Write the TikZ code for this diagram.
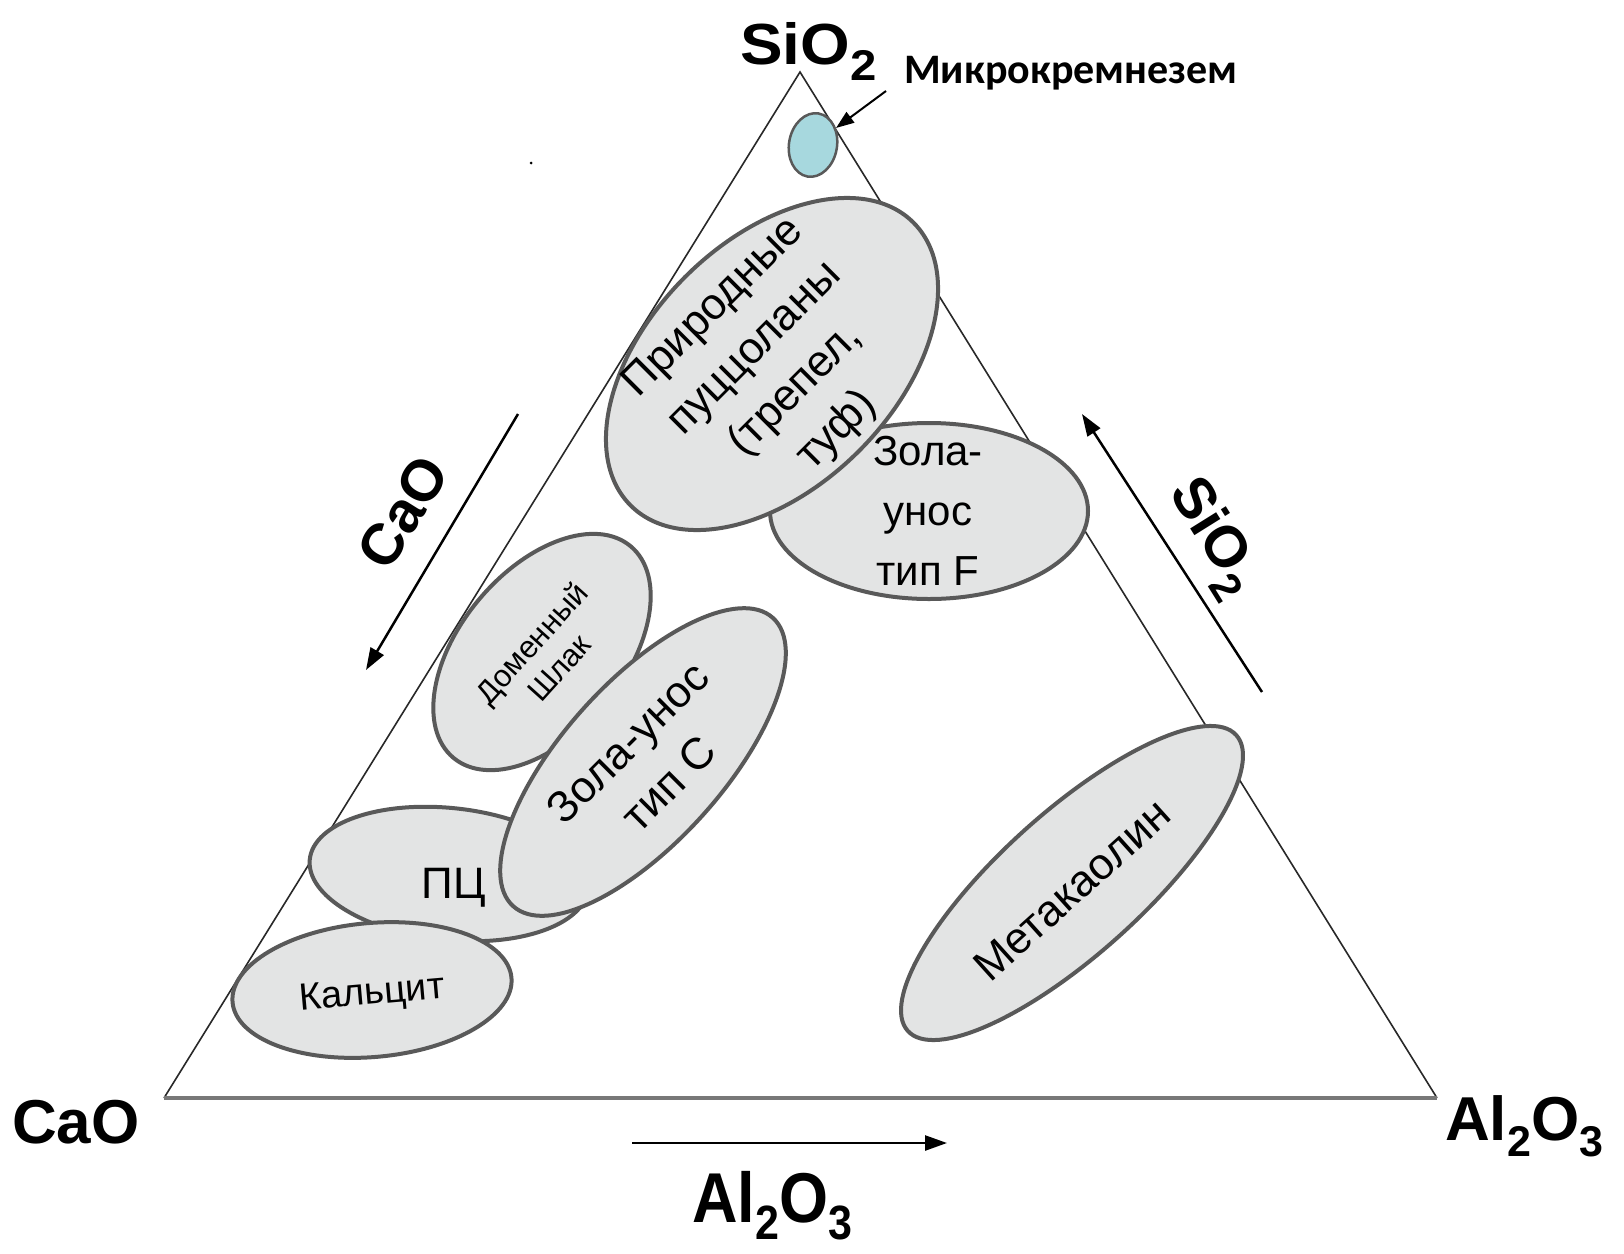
\documentclass[tikz,border=0pt]{standalone}
\usepackage{fontspec}
\setmainfont{Liberation Sans}
\newfontfamily\calib{Carlito}
\usetikzlibrary{shapes.geometric,arrows.meta}
\definecolor{zonefill}{RGB}{227,228,228}
\definecolor{edgegray}{RGB}{89,89,89}
\definecolor{microfill}{RGB}{167,216,222}
\definecolor{triline}{RGB}{40,40,40}
\definecolor{baseline}{RGB}{120,120,120}
\tikzset{
  zone/.style={ellipse, draw=edgegray, line width=4pt, fill=zonefill, inner sep=0pt},
  lbl/.style={align=center, inner sep=0pt, font=\fontsize{44}{58}\selectfont},
  axlbl/.style={inner sep=0pt, font=\bfseries\fontsize{58}{58}\selectfont},
  axarrow/.style={line width=2.5pt, -{Triangle[length=22pt,width=15pt]}},
  triedge/.style={line width=1.6pt, draw=triline},
}
\newcommand{\subdig}[1]{\raisebox{-16pt}{\fontsize{43}{43}\selectfont #1}}
\begin{document}
\begin{tikzpicture}[x=1pt,y=-1pt]
\useasboundingbox[fill=white] (0,0) rectangle (1624,1253);
% triangle
\coordinate (A) at (800,72);
\coordinate (B) at (164,1098);
\coordinate (C) at (1437,1098);
\draw[triedge] (B) -- (A) -- (C);
\draw[line width=4pt, draw=baseline] (B) -- (C);
\fill[black] (531,163) circle (1.5);
% zones (back to front)
\node[zone, minimum width=318, minimum height=176] (zolaF) at (929,511) {};
\node[zone, minimum width=400, minimum height=246, rotate=45] (prirod) at (772,364) {};
\node[zone, minimum width=276, minimum height=164, rotate=50] (domen) at (542,652) {};
\node[zone, minimum width=280, minimum height=132, rotate=-6] (pc) at (449,874) {};
\node[zone, minimum width=280, minimum height=134, rotate=5] (kalc) at (372,990) {};
\node[zone, minimum width=388, minimum height=160, rotate=48] (zolaC) at (643,762) {};
\node[zone, minimum width=442, minimum height=142, rotate=42] (metak) at (1072,883) {};
\node[ellipse, draw=edgegray, line width=2.5pt, fill=microfill, inner sep=0pt,
      minimum width=48, minimum height=64, rotate=-10] (micro) at (813,145) {};
% zone texts
\node[lbl, rotate=45] (tprirod) at (776,370) {Природные\\пуццоланы\\(трепел,\\туф)};
\node[lbl, font=\fontsize{42}{60}\selectfont] (tzolaF) at (928,511) {Зола-\\унос\\тип F};
\node[lbl, rotate=48, font=\fontsize{31}{37}\selectfont] (tdomen) at (545,655) {Доменный\\Шлак};
\node[lbl, rotate=45] (tzolaC) at (648,763) {Зола-унос\\тип С};
\node[lbl, anchor=base] (tpc) at (454,898) {ПЦ};
\node[lbl, rotate=5, font=\fontsize{38}{44}\selectfont] (tkalc) at (372,995) {Кальцит};
\node[lbl, rotate=42] (tmetak) at (1072,890) {Метакаолин};
% microsilica label and pointer
\node[inner sep=0pt, anchor=base west, font=\calib\bfseries\fontsize{42}{42}\selectfont] (tmicro) at (904,83) {Микрокремнезем};
\coordinate (mtail) at (886,91);
\draw[line width=2pt, -{Triangle[length=18pt,width=13pt]}] (mtail) -- (micro);
% axis arrows
\coordinate (caoT) at (518,414);
\coordinate (caoH) at (366,670);
\draw[axarrow] (caoT) -- (caoH);
\coordinate (siT) at (1262,692);
\coordinate (siH) at (1082,414);
\draw[axarrow] (siT) -- (siH);
\coordinate (alT) at (632,1143);
\coordinate (alH) at (947,1143);
\draw[axarrow] (alT) -- (alH);
% axis labels
\node[axlbl, anchor=base west] (topSi) at (740,64) {\scalebox{1.1}[1]{SiO\subdig{2}}};
\node[axlbl, anchor=base west, font=\bfseries\fontsize{62}{62}\selectfont] (cornerCa) at (12,1143) {CaO};
\node[axlbl, anchor=base west, font=\bfseries\fontsize{62}{62}\selectfont] (cornerAl) at (1445,1140) {Al\subdig{2}O\subdig{3}};
\node[axlbl, anchor=base west, font=\bfseries\fontsize{63}{63}\selectfont] (bottomAl) at (692,1222) {\scalebox{1}[1.12]{Al\subdig{2}O\subdig{3}}};
\node[axlbl, rotate=58] (sideCa) at (403,512) {CaO};
\node[axlbl, rotate=-58] (sideSi) at (1212,538) {SiO\subdig{2}};
\end{tikzpicture}
\end{document}
